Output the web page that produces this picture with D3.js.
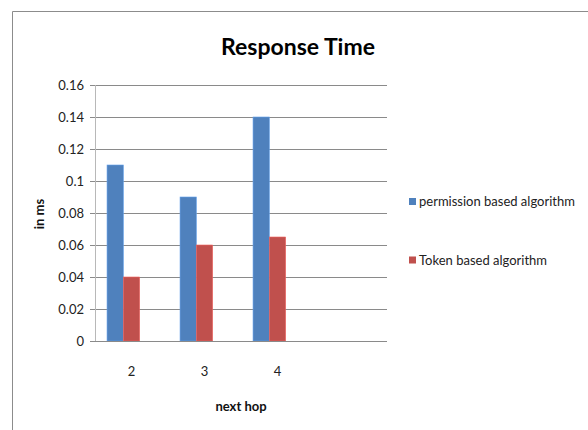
<!DOCTYPE html>
<html><head><meta charset="utf-8">
<script src="https://cdn.jsdelivr.net/npm/d3@7"></script>
<style>body{margin:0;background:#fff}text{font-family:Lato,"Open Sans",sans-serif}</style>
</head><body>
<svg id="c" width="588" height="430"></svg>
<script>
const categories = ["2","3","4",""];
const seriesNames = ["permission based algorithm","Token based algorithm","(empty)"];
const permission = [0.11, 0.09, 0.14, null];
const token = [0.04, 0.06, 0.065, null];
const empty = [null, null, null, null];
const yTicks = [0,0.02,0.04,0.06,0.08,0.1,0.12,0.14,0.16];
const colors = ["#4F81BD","#C0504D","#9BBB59"];

const svg = d3.select("#c");
// outer frame
svg.append("path").attr("d","M12.5,430 V11.5 H588").attr("fill","none").attr("stroke","#8c8c8c").attr("stroke-width",1);

const L=95, R=387, T=85, B=341;
const x = d3.scaleBand().domain(categories).range([L,R]);
const y = d3.scaleLinear().domain([0,0.16]).range([B,T]);
const series = [permission, token, empty];
const groupW = x.bandwidth()*0.67;
const xs = d3.scaleBand().domain(d3.range(series.length)).range([0,groupW]);

// gridlines
svg.append("g").selectAll("line").data(yTicks).join("line")
  .attr("x1",L-5).attr("x2",R).attr("y1",d=>Math.round(y(d))+0.5).attr("y2",d=>Math.round(y(d))+0.5)
  .attr("stroke","#8a8a8a").attr("stroke-width",1);
// y axis line
svg.append("line").attr("x1",L+0.5).attr("x2",L+0.5).attr("y1",T).attr("y2",B).attr("stroke","#b8b8b8");

// bars
series.forEach((s,i)=>{
  svg.append("g").selectAll("rect").data(categories.map((c,j)=>({c,v:s[j]})).filter(d=>d.v!=null)).join("rect")
    .attr("x",d=>x(d.c)+(x.bandwidth()-groupW)/2+xs(i))
    .attr("width",xs.bandwidth())
    .attr("y",d=>y(d.v)).attr("height",d=>B-y(d.v))
    .attr("fill",colors[i]).attr("stroke",d3.color(colors[i]).brighter(0.6)).attr("stroke-width",0.6);
});
// bottom axis line on top
svg.append("line").attr("x1",L).attr("x2",R).attr("y1",B+0.5).attr("y2",B+0.5).attr("stroke","#8a8a8a");

// y tick labels
svg.append("g").selectAll("text").data(yTicks).join("text")
  .attr("x",84).attr("y",d=>y(d)).attr("dy","0.35em").attr("text-anchor","end")
  .attr("font-size",13).attr("fill","#222").text(d=>d===0?"0":d3.format("")(+d.toFixed(2)));
// x labels
svg.append("g").selectAll("text").data(categories).join("text")
  .attr("x",d=>x(d)+x.bandwidth()/2).attr("y",371).attr("dy","0.35em").attr("text-anchor","middle")
  .attr("font-size",13).attr("fill","#222").text(d=>d);

// titles
svg.append("text").attr("x",298).attr("y",47).attr("dy","0.35em").attr("text-anchor","middle")
  .attr("font-size",23).attr("font-weight","bold").attr("fill","#000").text("Response Time");
svg.append("text").attr("transform","translate(39,214) rotate(-90)").attr("dy","0.35em").attr("text-anchor","middle")
  .attr("font-size",13).attr("font-weight","bold").attr("fill","#111").text("in ms");
svg.append("text").attr("x",241).attr("y",406).attr("dy","0.35em").attr("text-anchor","middle")
  .attr("font-size",13).attr("font-weight","bold").attr("fill","#111").text("next hop");

// legend
const leg = svg.append("g");
[0,1].forEach((i,k)=>{
  const cy = [201.5,260][k];
  leg.append("rect").attr("x",409).attr("y",cy-3.5).attr("width",7).attr("height",7).attr("fill",colors[i]);
  leg.append("text").attr("x",419).attr("y",cy).attr("dy","0.35em").attr("font-size",13).attr("fill","#222").text(seriesNames[i]);
});
</script>
</body></html>
